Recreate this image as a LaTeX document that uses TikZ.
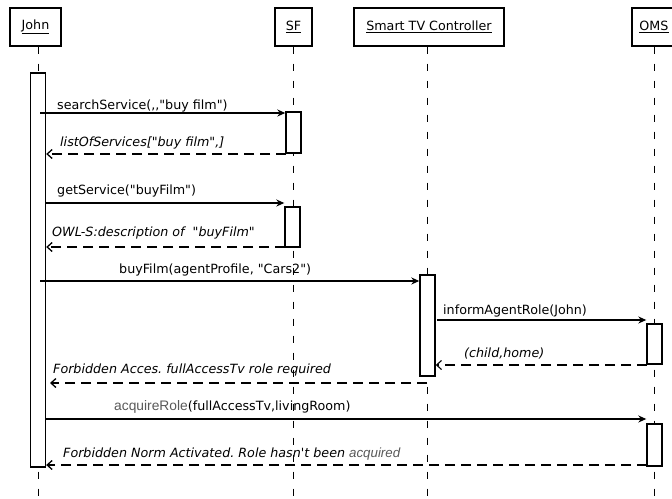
\documentclass[tikz,border=0pt]{standalone}
\usepackage{fontspec}
\setmainfont{DejaVu Sans}[Ligatures=TeXOff]
\newfontfamily\greyfont{Liberation Sans}[Ligatures=TeXOff]
\usetikzlibrary{arrows.meta}
\frenchspacing
\begin{document}
\begin{tikzpicture}[x=1pt,y=-1pt,
  obj/.style={draw,line width=1.4pt,fill=white,inner sep=0pt,font=\fontsize{12.7}{14}\selectfont},
  act/.style={draw,line width=1.4pt,fill=white,inner sep=0pt,minimum width=15pt},
  life/.style={line width=0.8pt,dash pattern=on 7pt off 10pt},
  call/.style={line width=1.3pt,-{Stealth[length=8pt,width=7pt]}},
  reply/.style={line width=1.3pt,dash pattern=on 10pt off 6pt,-{Straight Barb[length=5pt,width=9pt]}},
  lbl/.style={anchor=base west,inner sep=0pt,font=\fontsize{12.7}{14}\selectfont},
  ilbl/.style={lbl,font=\fontsize{12.7}{14}\selectfont\itshape},
  greytxt/.style={text=black!65}]
\useasboundingbox (0,0) rectangle (672,498);
% objects
\node[obj,minimum width=51pt,minimum height=38pt] (john) at (35.5,27) {\underline{John}};
\node[obj,minimum width=37pt,minimum height=38pt] (sf) at (293.5,27) {\underline{SF}};
\node[obj,minimum width=150pt,minimum height=38pt] (stc) at (429,27) {\underline{Smart TV Controller}};
\node[obj,minimum width=44pt,minimum height=38pt] (oms) at (654,27) {\underline{OMS}};
% lifelines
\coordinate (jend) at (38,498);
\coordinate (sfend) at (293,498);
\coordinate (stcend) at (427,498);
\coordinate (omsend) at (654,498);
\draw[life] (john.south -| jend) -- (jend);
\draw[life] (sf.south -| sfend) -- (sfend);
\draw[life] (stc.south -| stcend) -- (stcend);
\draw[life] (oms.south -| omsend) -- (omsend);
% activations
\node[act,minimum height=394pt] (ja) at (38,270) {};
\node[act,minimum height=41pt] (sf1) at (293.5,132.5) {};
\node[act,minimum height=40pt] (sf2) at (292.5,227) {};
\node[act,minimum height=101pt] (stca) at (427.5,325.5) {};
\node[act,minimum height=40pt] (om1) at (654.5,344) {};
\node[act,minimum height=42pt] (om2) at (654.5,445) {};
% messages
\coordinate (m1s) at (40,113);
\draw[call] (m1s) -- (m1s -| sf1.west);
\node[lbl] (l1) at (57,109) {searchService(,,"buy film")};
\coordinate (m2s) at (286,154);
\draw[reply] (m2s) -- (m2s -| ja.east);
\node[ilbl] (l2) at (60,146) {listOfServices["buy film",]};
\coordinate (m3s) at (45,203);
\draw[call] (m3s) -- (m3s -| sf2.west);
\node[lbl] (l3) at (57,194) {getService("buyFilm")};
\coordinate (m4s) at (285,247);
\draw[reply] (m4s) -- (m4s -| ja.east);
\node[ilbl] (l4) at (52,236) {OWL-S:description of \ "buyFilm"};
\coordinate (m5s) at (40,281);
\draw[call] (m5s) -- (m5s -| stca.west);
\node[lbl] (l5) at (119,273) {buyFilm(agentProfile, "Cars2")};
\coordinate (m6s) at (437,320);
\draw[call] (m6s) -- (m6s -| om1.west);
\node[lbl] (l6) at (443,314) {informAgentRole(John)};
\coordinate (m7s) at (647,365);
\draw[reply,line width=1.1pt] (m7s) -- (m7s -| stca.east);
\node[ilbl] (l7) at (464,357) {(child,home)};
\coordinate (m8s) at (427,383);
\draw[reply] (m8s) -- (50,383);
\node[ilbl] (l8) at (53,373) {Forbidden Acces. fullAccessTv role required};
\coordinate (m9s) at (45,419);
\draw[call] (m9s) -- (m9s -| om2.west);
\node[lbl] (l9) at (114,410) {{\color{black!65}\greyfont\fontsize{13.8}{15}\selectfont acquireRole}(fullAccessTv,livingRoom)};
\coordinate (m10s) at (647,465);
\draw[reply] (m10s) -- (m10s -| ja.east);
\node[ilbl] (l10) at (63,457) {Forbidden Norm Activated. Role hasn't been {\color{black!65}\greyfont\itshape\fontsize{13.3}{15}\selectfont acquired}};
\end{tikzpicture}
\end{document}
